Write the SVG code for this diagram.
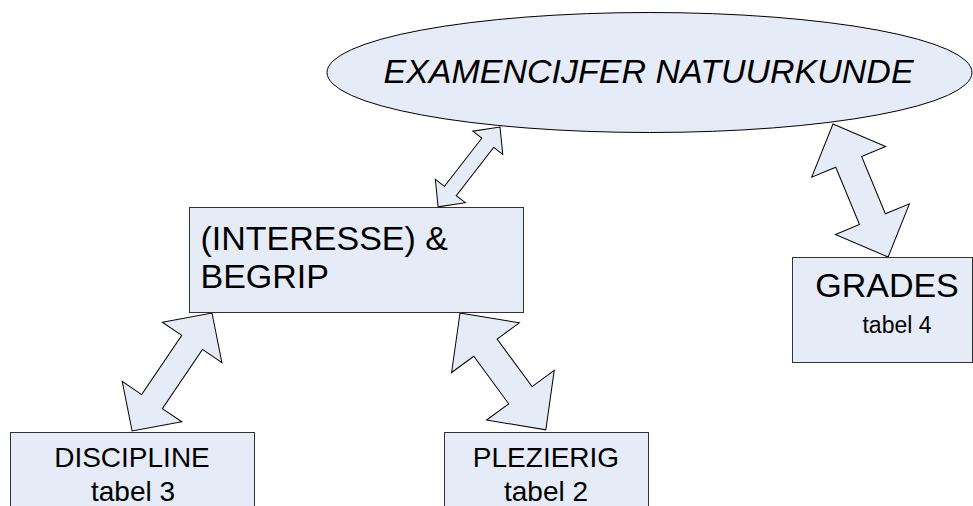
<svg xmlns="http://www.w3.org/2000/svg" width="973" height="506" viewBox="0 0 973 506">
<style>
.shape{fill:#E6ECF7;stroke:#000;stroke-width:1}
.box{fill:#E6ECF7;stroke:#333;stroke-width:1}
text{font-family:"Liberation Sans",Arial,sans-serif;fill:#000}
</style>
<rect width="973" height="506" fill="#fff"/>
<g id="connectors">
<path class="shape" transform="translate(500,127) rotate(127.8)" d="M0,0 L20,-19 L20,-7.5 L81,-7.5 L81,-19 L101,0 L81,19 L81,7.5 L20,7.5 L20,19 Z"/>
<path class="shape" transform="translate(833,124) rotate(67.5)" d="M0,0 L41,-40 L41,-14 L103,-14 L103,-40 L144,0 L103,40 L103,14 L41,14 L41,40 Z"/>
<path class="shape" transform="translate(212,313) rotate(124.1)" d="M0,0 L35.5,-36 L35.5,-12.5 L107,-12.5 L107,-36 L142.5,0 L107,36 L107,12.5 L35.5,12.5 L35.5,36 Z"/>
<path class="shape" transform="translate(460,313) rotate(53.7)" d="M0,0 L43,-42 L43,-14.5 L102,-14.5 L102,-42 L145,0 L102,42 L102,14.5 L43,14.5 L43,42 Z"/>
</g>
<g id="examencijfer">
<ellipse class="shape" cx="649.5" cy="72.5" rx="322.5" ry="60"/>
<text x="648.5" y="83" font-size="34" font-style="italic" text-anchor="middle">EXAMENCIJFER NATUURKUNDE</text>
</g>
<g id="begrip">
<rect class="box" x="189.5" y="207.5" width="334" height="105"/>
<text x="200.5" y="250" font-size="34">(INTERESSE) &amp;</text>
<text x="200.5" y="288" font-size="34">BEGRIP</text>
</g>
<g id="grades">
<rect class="box" x="792.5" y="257.5" width="180" height="105"/>
<text x="887" y="297" font-size="34" text-anchor="middle">GRADES</text>
<text x="897" y="333" font-size="23" text-anchor="middle">tabel 4</text>
</g>
<g id="discipline">
<rect class="box" x="10.5" y="432.5" width="244" height="80"/>
<text x="132" y="467" font-size="28" text-anchor="middle">DISCIPLINE</text>
<text x="133" y="501" font-size="28" text-anchor="middle">tabel 3</text>
</g>
<g id="plezierig">
<rect class="box" x="444.5" y="432.5" width="204" height="80"/>
<text x="546" y="467" font-size="28" text-anchor="middle">PLEZIERIG</text>
<text x="546" y="501" font-size="28" text-anchor="middle">tabel 2</text>
</g>
</svg>
